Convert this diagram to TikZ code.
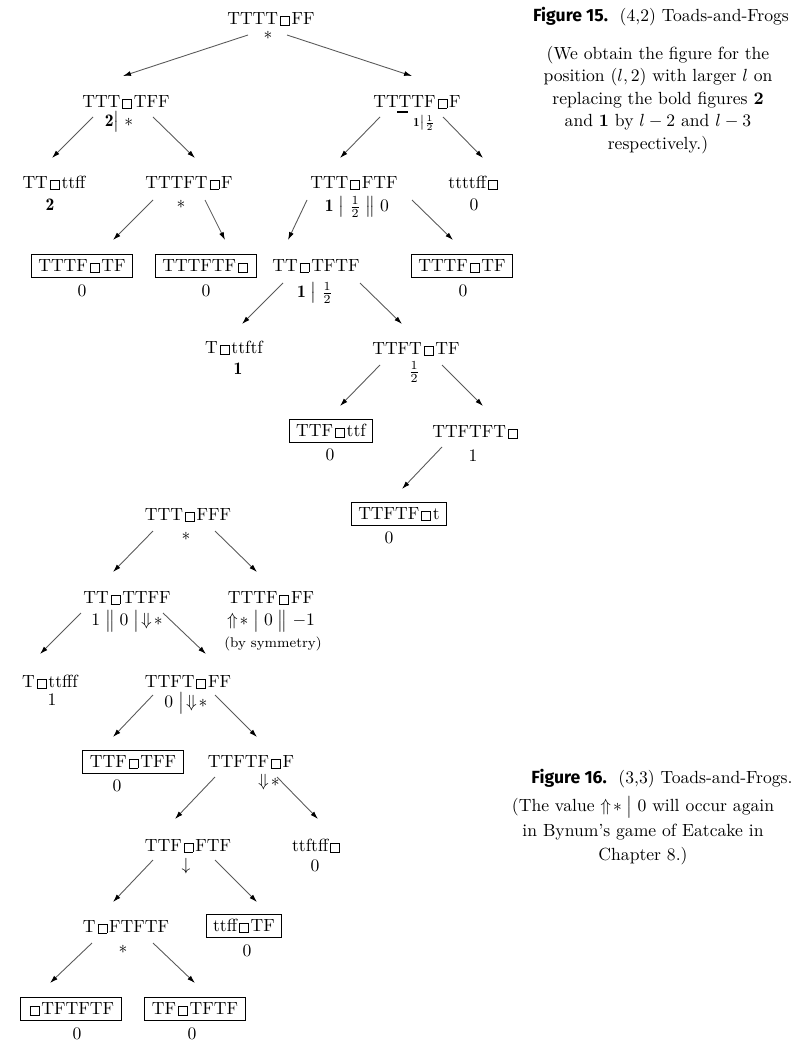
\documentclass[tikz,border=0pt]{standalone}
\usepackage{amsmath}
\usepackage{fontspec}
\newfontfamily\figfont{Fira Sans}
\usetikzlibrary{arrows.meta}
\newcommand{\emptycell}{\kern1.1pt{\setlength{\fboxsep}{0pt}\setlength{\fboxrule}{0.4pt}\fbox{\rule{0pt}{4.7pt}\rule{4.7pt}{0pt}}}\kern1.1pt}

\begin{document}
\begin{tikzpicture}[x=0.5682pt, y=-0.5682pt,
    game/.style={inner sep=1pt},
    boxed/.style={draw, line width=0.6pt, inner xsep=4pt, inner ysep=3pt},
    val/.style={inner sep=1pt},
    arr/.style={draw=black!65, line width=0.5pt, -{Latex[length=4.5pt,width=2.8pt,black]}},
    capt/.style={align=center, inner sep=0pt}]
\useasboundingbox (0,0) rectangle (807,1059);

% Figure 15: (4,2)
\node[game] (A) at (271,19) {TTTT\emptycell FF};
\node[val] (Av) at (268,35) {$*$};
\node[game] (B) at (126,102) {TTT\emptycell TFF};
\node[val] (Bv) at (119,122) {$\mathbf{2}\big|\;*$};
\node[game] (C) at (417,102) {TTTTF\emptycell F};
\node[val, font=\scriptsize] (Cv) at (424,123) {$\mathbf{1}\big|\frac12$};
\node[game] (D) at (54,183) {TT\emptycell ttff};
\node[val] (Dv) at (50,205) {$\mathbf{2}$};
\node[game] (E) at (189,183) {TTTFT\emptycell F};
\node[val] (Ev) at (181,204) {$*$};
\node[game] (F) at (354,183) {TTT\emptycell FTF};
\node[val] (Fv) at (357,207) {$\mathbf{1}\;\big|\;\frac12\;\big\|\;0$};
\node[game] (G) at (474,183) {ttttff\emptycell};
\node[val] (Gv) at (474,205) {$0$};
\node[boxed] (H) at (82,266) {TTTF\emptycell TF};
\node[val] (Hv) at (82,291) {$0$};
\node[boxed] (I) at (206,266) {TTTFTF\emptycell};
\node[val] (Iv) at (206,291) {$0$};
\node[game] (J) at (316,266) {TT\emptycell TFTF};
\node[val] (Jv) at (315,293) {$\mathbf{1}\;\big|\;\frac12$};
\node[boxed] (K) at (462,266) {TTTF\emptycell TF};
\node[val] (Kv) at (463,291) {$0$};
\node[game] (L) at (234,348) {T\emptycell ttftf};
\node[val] (Lv) at (238,369) {$\mathbf{1}$};
\node[game] (M) at (416,349) {TTFT\emptycell TF};
\node[val] (Mv) at (414,372) {$\frac12$};
\node[boxed] (N) at (331,431) {TTF\emptycell ttf};
\node[val] (Nv) at (330,455) {$0$};
\node[game] (O) at (476,432) {TTFTFT\emptycell};
\node[val] (Ov) at (473,456) {$1$};
\node[boxed] (P) at (399,514) {TTFTF\emptycell t};
\node[val] (Pv) at (389,538) {$0$};
\draw[line width=0.7pt] (397,112) -- (408,112);

\draw[arr] ([shift={(-23,16)}]A.center) -- ([shift={(-3,-26)}]B.center);
\draw[arr] ([shift={(16,16)}]A.center) -- ([shift={(-5,-26)}]C.center);
\draw[arr] ([shift={(-33,15)}]B.center) -- ([shift={(-2,-25)}]D.center);
\draw[arr] ([shift={(27,15)}]B.center) -- ([shift={(6,-25)}]E.center);
\draw[arr] ([shift={(-37,15)}]C.center) -- ([shift={(-14,-25)}]F.center);
\draw[arr] ([shift={(26,15)}]C.center) -- ([shift={(9,-25)}]G.center);
\draw[arr] ([shift={(-36,17)}]E.center) -- ([shift={(31,-26)}]H.center);
\draw[arr] ([shift={(16,17)}]E.center) -- ([shift={(19,-26)}]I.center);
\draw[arr] ([shift={(-47,17)}]F.center) -- ([shift={(-28,-26)}]J.center);
\draw[arr] ([shift={(58,17)}]F.center) -- ([shift={(-9,-26)}]K.center);
\draw[arr] ([shift={(-33,17)}]J.center) -- ([shift={(8,-24)}]L.center);
\draw[arr] ([shift={(44,17)}]J.center) -- ([shift={(-14,-25)}]M.center);
\draw[arr] ([shift={(-36,16)}]M.center) -- ([shift={(9,-25)}]N.center);
\draw[arr] ([shift={(26,16)}]M.center) -- ([shift={(7,-26)}]O.center);
\draw[arr] ([shift={(-34,15)}]O.center) -- ([shift={(3,-25)}]P.center);

% Figure 16: (3,3)
\node[game] (Q) at (188,515) {TTT\emptycell FFF};
\node[val] (Qv) at (186,536) {$*$};
\node[game] (R) at (127,598) {TT\emptycell TTFF};
\node[val] (Rv) at (127,621) {$1\;\big\|\;0\;\big|\!\Downarrow\!*$};
\node[game] (S) at (271,598) {TTTF\emptycell FF};
\node[val] (Sv) at (271,621) {$\Uparrow\!*\;\big|\;0\;\big\|\;{-1}$};
\node[val, font=\footnotesize] (Ss) at (273,644) {(by symmetry)};
\node[game] (T) at (50,682) {T\emptycell ttfff};
\node[val] (Tv) at (52,700) {$1$};
\node[game] (U) at (188,682) {TTFT\emptycell FF};
\node[val] (Uv) at (186,703) {$0\;\big|\!\Downarrow\!*$};
\node[boxed] (V) at (133,762) {TTF\emptycell TFF};
\node[val] (Vv) at (117,786) {$0$};
\node[game] (W) at (251,762) {TTFTF\emptycell F};
\node[val] (Wv) at (269,782) {$\Downarrow\!*$};
\node[game] (X) at (188,846) {TTF\emptycell FTF};
\node[val] (Xv) at (186,866) {$\downarrow$};
\node[game] (Y) at (317,846) {ttftff\emptycell};
\node[val] (Yv) at (315,866) {$0$};
\node[game] (Z) at (126,927) {T\emptycell FTFTF};
\node[val] (Zv) at (123,949) {$*$};
\node[boxed] (AA) at (244,926) {ttff\emptycell TF};
\node[val] (AAv) at (247,951) {$0$};
\node[boxed] (AB) at (71,1009) {\emptycell TFTFTF};
\node[val] (ABv) at (77,1034) {$0$};
\node[boxed] (AC) at (195,1009) {TF\emptycell TFTF};
\node[val] (ACv) at (192,1034) {$0$};

\draw[arr] ([shift={(-35,16)}]Q.center) -- ([shift={(-14,-26)}]R.center);
\draw[arr] ([shift={(27,16)}]Q.center) -- ([shift={(-14,-26)}]S.center);
\draw[arr] ([shift={(-46,15)}]R.center) -- ([shift={(-10,-28)}]T.center);
\draw[arr] ([shift={(36,15)}]R.center) -- ([shift={(18,-28)}]U.center);
\draw[arr] ([shift={(-35,13)}]U.center) -- ([shift={(-20,-25)}]V.center);
\draw[arr] ([shift={(27,13)}]U.center) -- ([shift={(6,-25)}]W.center);
\draw[arr] ([shift={(-36,15)}]W.center) -- ([shift={(-13,-27)}]X.center);
\draw[arr] ([shift={(26,15)}]W.center) -- ([shift={(1,-27)}]Y.center);
\draw[arr] ([shift={(-35,14)}]X.center) -- ([shift={(-13,-25)}]Z.center);
\draw[arr] ([shift={(27,14)}]X.center) -- ([shift={(13,-24)}]AA.center);
\draw[arr] ([shift={(-34,16)}]Z.center) -- ([shift={(-21,-26)}]AB.center);
\draw[arr] ([shift={(27,16)}]Z.center) -- ([shift={(0,-26)}]AC.center);

% captions
\node[capt] (f15) at (661,17) {{\figfont\bfseries Figure 15.}\ \ (4,2) Toads-and-Frogs};
\node[capt, font=\fontsize{10pt}{12.8pt}\selectfont] (f15t) at (658,100) {(We obtain the figure for the\\ position $(l,2)$ with larger $l$ on\\ replacing the bold figures \textbf{2}\\ and \textbf{1} by $l-2$ and $l-3$\\ respectively.)};
\node[capt] (f16) at (662,779) {{\figfont\bfseries Figure 16.}\ \ (3,3) Toads-and-Frogs.};
\node[capt, font=\fontsize{10pt}{13.9pt}\selectfont] (f16t) at (643,831) {(The value $\Uparrow\!*\;\big|\;0$ will occur again\\ in Bynum's game of Eatcake in\\ Chapter 8.)};
\end{tikzpicture}
\end{document}
